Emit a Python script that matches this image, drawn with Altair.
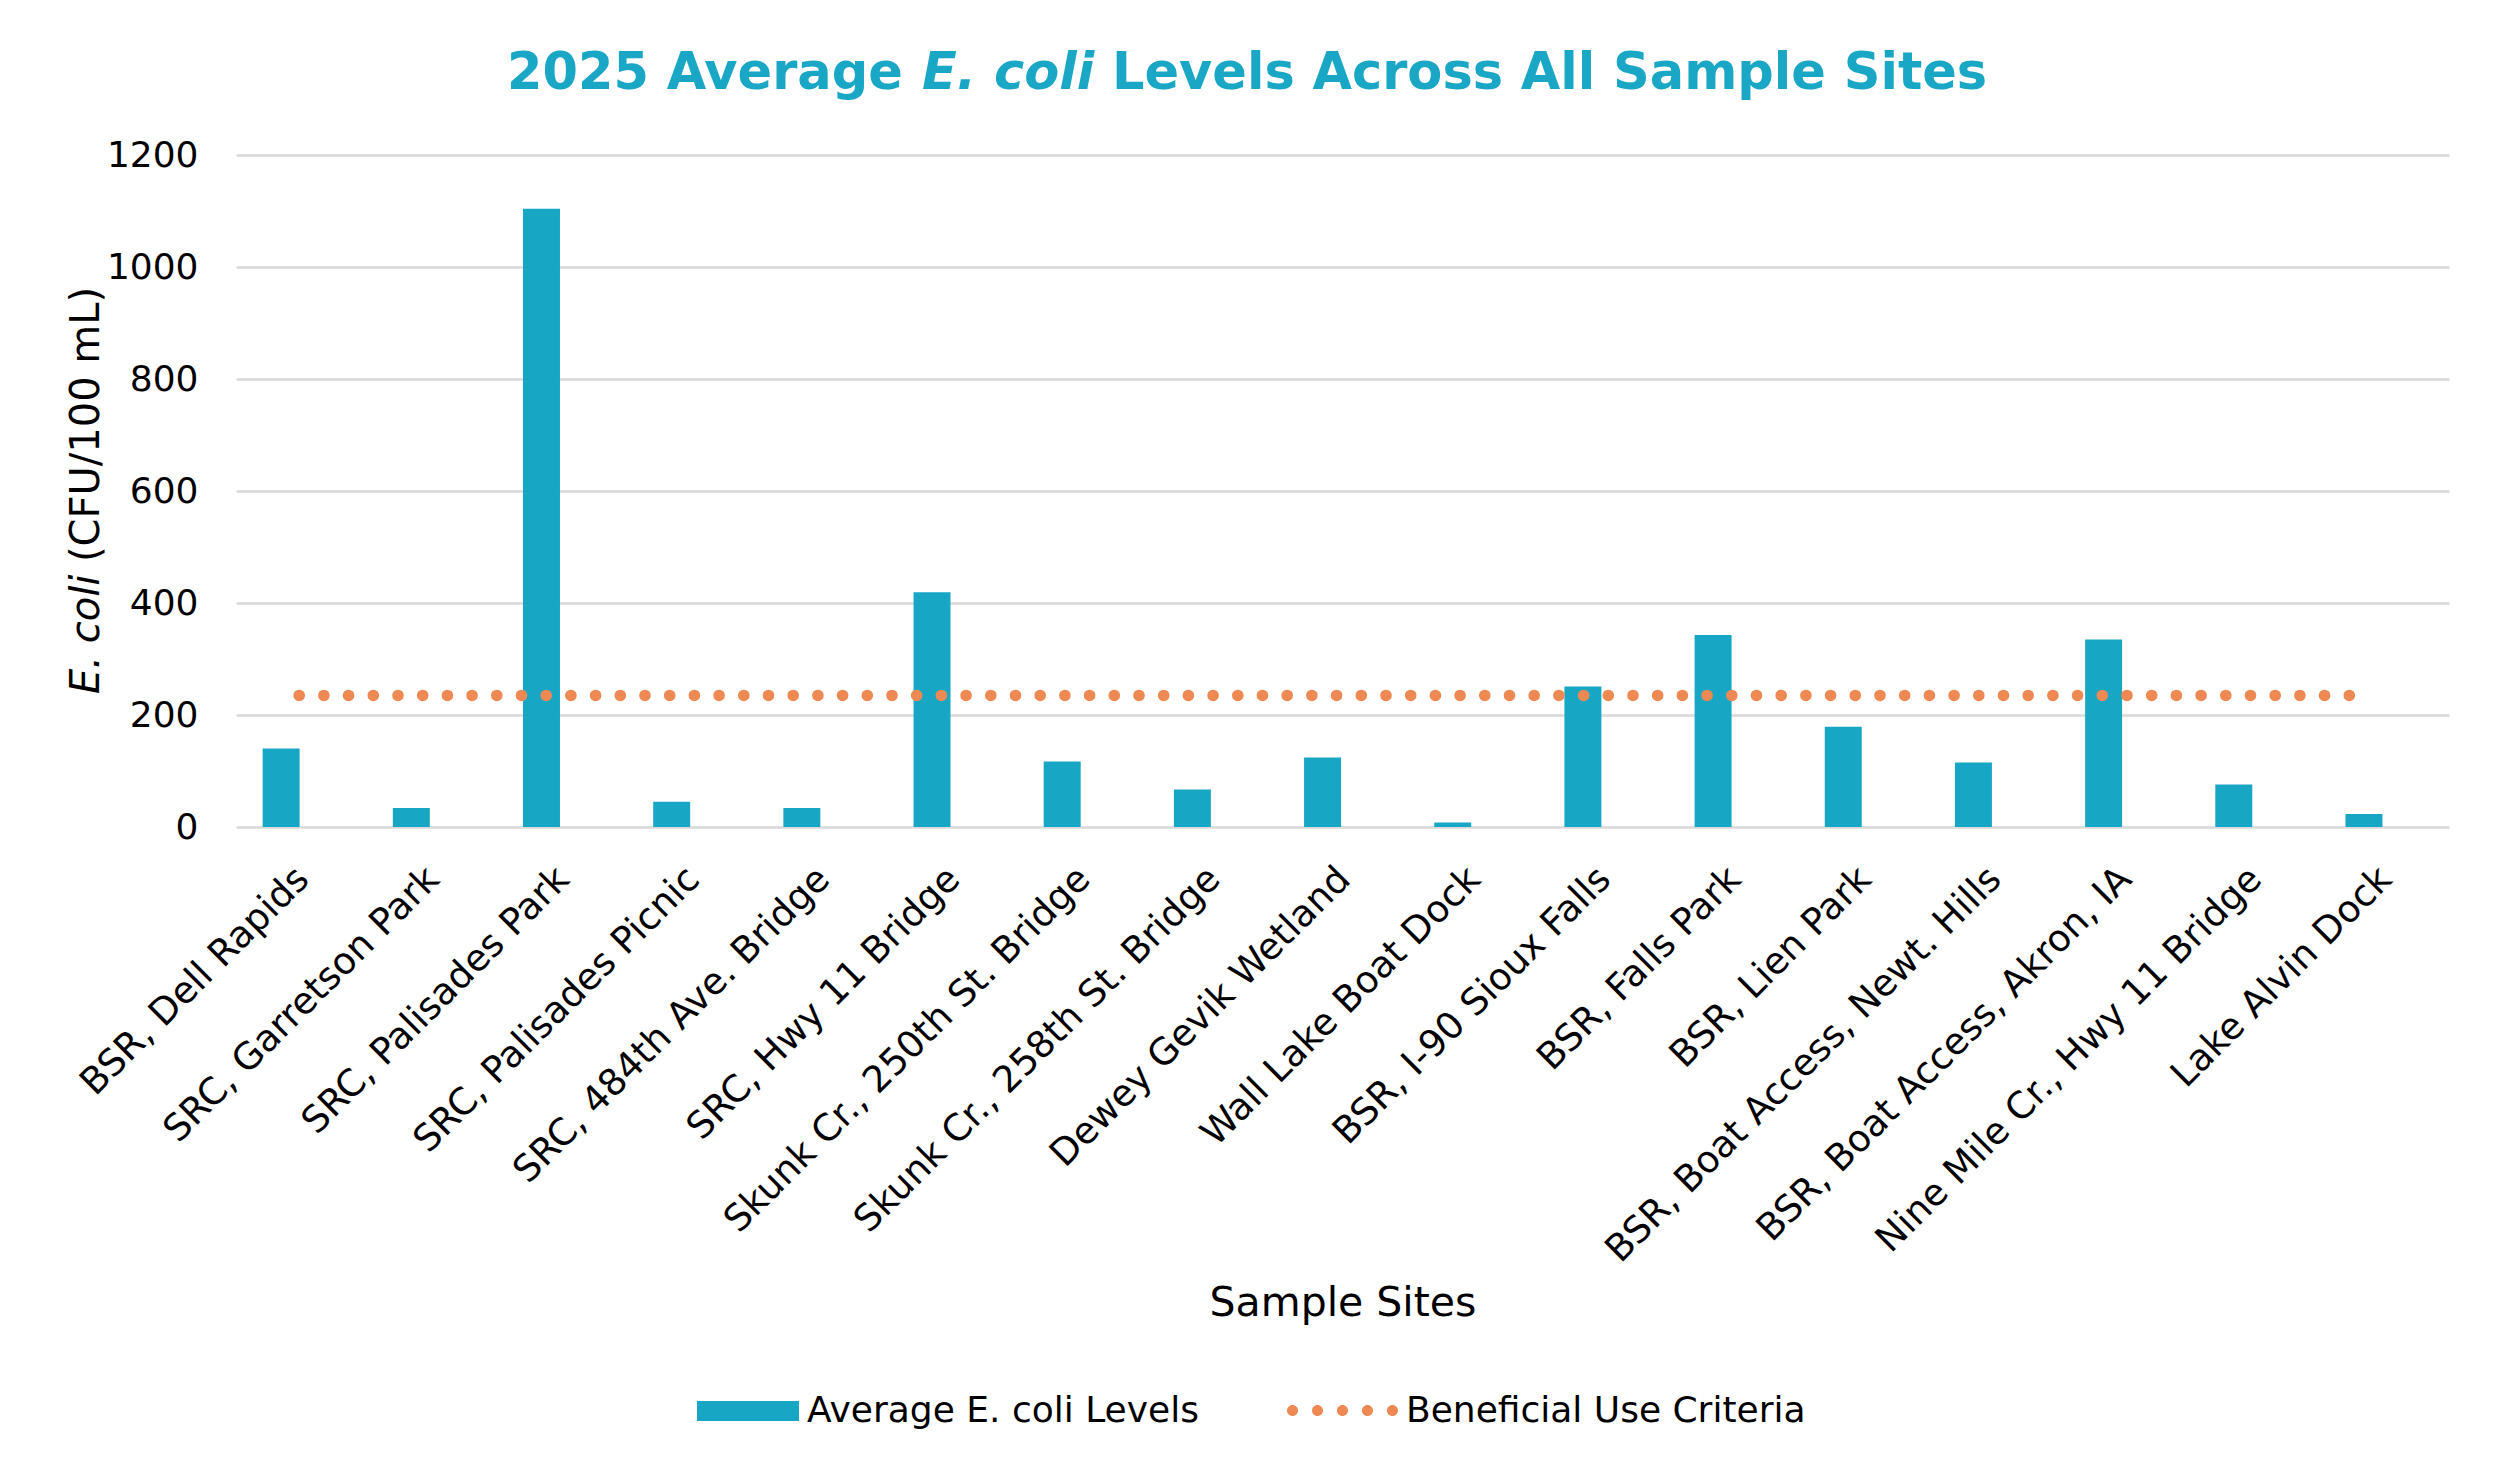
import altair as alt
import pandas as pd

# ---------------- data ----------------
SITES = [
    "BSR, Dell Rapids",
    "SRC, Garretson Park",
    "SRC, Palisades Park",
    "SRC, Palisades Picnic",
    "SRC, 484th Ave. Bridge",
    "SRC, Hwy 11 Bridge",
    "Skunk Cr., 250th St. Bridge",
    "Skunk Cr., 258th St. Bridge",
    "Dewey Gevik Wetland",
    "Wall Lake Boat Dock",
    "BSR, I-90 Sioux Falls",
    "BSR, Falls Park",
    "BSR, Lien Park",
    "BSR, Boat Access, Newt. Hills",
    "BSR, Boat Access, Akron, IA",
    "Nine Mile Cr., Hwy 11 Bridge",
    "Lake Alvin Dock",
]
AVG_ECOLI = [140, 34, 1104, 45, 34, 419, 117, 67, 124, 8, 251, 343, 179, 115, 335, 76, 23]
CRITERIA = [235, 235, 235, 235, 235, 235, 235, 235, 235, 235, 235, 235, 235, 235, 235, 235, 235]
SERIES = ["Average E. coli Levels", "Beneficial Use Criteria"]
TITLE_PARTS = ["2025 Average", "E. coli", "Levels Across All Sample Sites"]
Y_TITLE_PARTS = ["E. coli", "(CFU/100 mL)"]
X_TITLE = "Sample Sites"
Y_TICKS = [0, 200, 400, 600, 800, 1000, 1200]

# ---------------- style ----------------
TEAL = "#17A6C4"
TITLE_TEAL = "#19A7C5"
ORANGE = "#EE8953"
GRID = "#D9D9D9"
FONT = "DejaVu Sans"
W, H = 2213, 672

df = pd.DataFrame({
    "site": SITES,
    "value": AVG_ECOLI,
    "criteria": CRITERIA,
    "bar_series": SERIES[0],
    "line_series": SERIES[1],
})

x_enc = alt.X(
    "site:N",
    sort=SITES,
    scale=alt.Scale(paddingInner=0.716, paddingOuter=0.358, align=0.286),
    axis=alt.Axis(
        title=X_TITLE,
        labelAngle=-45,
        labelAlign="right",
        labelBaseline="middle",
        labelFont=FONT,
        labelFontSize=37,
        labelColor="#000000",
        labelPadding=46,
        labelOffset=22,
        labelLimit=0,
        labelOverlap=False,
        ticks=False,
        domain=False,
        grid=False,
        titleFont=FONT,
        titleFontSize=41,
        titleFontWeight="normal",
        titleColor="#000000",
        titleBaseline="alphabetic",
        titleY=488,
    ),
)

y_axis = alt.Axis(
    title=None,
    values=Y_TICKS,
    format="d",
    labelFont=FONT,
    labelFontSize=36,
    labelColor="#000000",
    labelPadding=38,
    ticks=False,
    tickSize=0,
    domain=False,
    grid=True,
    gridColor=GRID,
    gridWidth=2.5,
)
y_scale = alt.Scale(domain=[0, 1200], nice=False)

rect_path = "M-1,-0.196H1V0.196H-1Z"
r = 0.1
dots_path = " ".join(
    f"M {cx - r} 0 a {r} {r} 0 1 0 {2 * r} 0 a {r} {r} 0 1 0 {-2 * r} 0 Z"
    for cx in (-0.9, -0.45, 0.0, 0.45, 0.9)
)

bars = alt.Chart(df).mark_bar().encode(
    x=x_enc,
    y=alt.Y("value:Q", scale=y_scale, axis=y_axis),
    fill=alt.Fill(
        "bar_series:N",
        scale=alt.Scale(domain=[SERIES[0]], range=[TEAL]),
        legend=alt.Legend(
            title=None,
            orient="none",
            legendX=461,
            legendY=1205,
            padding=0,
            symbolType=rect_path,
            symbolSize=10404,
            symbolStrokeWidth=0,
            labelFont=FONT,
            labelFontSize=36,
            labelColor="#000000",
            labelOffset=8,
            labelLimit=0,
        ),
    ),
)

line = alt.Chart(df).mark_line(strokeCap="round", strokeDashOffset=6.7).encode(
    x=x_enc,
    y=alt.Y("criteria:Q", scale=y_scale, axis=y_axis),
    stroke=alt.Stroke(
        "line_series:N",
        scale=alt.Scale(domain=[SERIES[1]], range=[ORANGE]),
        legend=alt.Legend(
            title=None,
            orient="none",
            legendX=1051,
            legendY=1200,
            padding=0,
            symbolType=dots_path,
            symbolSize=12321,
            symbolFillColor=ORANGE,
            symbolStrokeWidth=0,
            labelFont=FONT,
            labelFontSize=36,
            labelColor="#000000",
            labelOffset=8,
            labelLimit=0,
        ),
    ),
    strokeDash=alt.value([0.1, 24.6]),
    strokeWidth=alt.value(11.5),
)


def text_layer(txt, px, py, size, italic=False, bold=False, color="#000000", angle=0):
    kw = dict(
        font=FONT,
        fontSize=size,
        color=color,
        align="left",
        baseline="alphabetic",
    )
    if italic:
        kw["fontStyle"] = "italic"
    if bold:
        kw["fontWeight"] = "bold"
    if angle:
        kw["angle"] = angle
    return alt.Chart(pd.DataFrame({"t": [txt]})).mark_text(**kw).encode(
        text="t:N", x=alt.value(px), y=alt.value(py)
    )


title1 = text_layer(TITLE_PARTS[0], 271, -66, 51, bold=True, color=TITLE_TEAL)
title2 = text_layer(TITLE_PARTS[1], 686, -66, 51, bold=True, italic=True, color=TITLE_TEAL)
title3 = text_layer(TITLE_PARTS[2], 876, -66, 51, bold=True, color=TITLE_TEAL)
ytitle1 = text_layer(Y_TITLE_PARTS[0], -137, 539, 40, italic=True, angle=270)
ytitle2 = text_layer(Y_TITLE_PARTS[1], -137, 407, 40, angle=270)

chart = (
    alt.layer(bars, line, title1, title2, title3, ytitle1, ytitle2)
    .resolve_scale(fill="independent", stroke="independent")
    .properties(
        width=W,
        height=H,
        padding={"left": 228, "top": 147, "right": 35, "bottom": 630},
        autosize=alt.AutoSizeParams(type="none"),
        background="#FFFFFF",
    )
    .configure_view(stroke=None)
)

chart.save("out.html", embed_options={"renderer": "svg", "actions": False})
